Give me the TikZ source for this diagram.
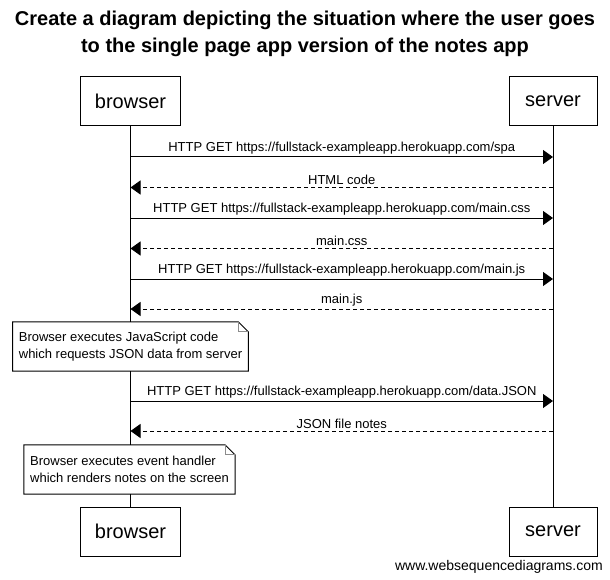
\documentclass[tikz,border=0pt]{standalone}
\usepackage{fontspec}
\setmainfont{Liberation Sans}
\usetikzlibrary{arrows.meta,positioning,calc}
\tikzset{
 actor/.style={draw, line width=1pt, fill=white, minimum height=49pt, inner sep=0pt, font=\fontsize{20}{24}\selectfont},
 lifeline/.style={line width=1pt},
 call/.style={line width=1pt, -{Triangle[length=10pt,width=14pt]}},
 reply/.style={call, dash pattern=on 4pt off 3pt},
 msglabel/.style={midway, above, inner sep=2pt, font=\fontsize{13}{15}\selectfont},
 notebox/.style={align=left, inner xsep=6pt, inner ysep=0pt, minimum height=49pt, fill=white, font=\fontsize{13}{17}\selectfont},
 notefold/.style={line width=0.8pt, draw=black!45}
}

\begin{document}
\begin{tikzpicture}[x=1pt,y=-1pt]
\useasboundingbox (0,0) rectangle (610,580);
% title
\node[align=center, font=\fontsize{20}{27}\selectfont\bfseries] (title) at (305,33.5)
 {Create a diagram depicting the situation where the user goes\\to the single page app version of the notes app};
% participants
\node[actor, minimum width=100pt] (browser) at (130.5,101.5) {browser};
\node[actor, minimum width=88pt] (server) at (553,101.5) {server};
\node[actor, minimum width=100pt] (browserEnd) at (130.5,531.5) {browser};
\node[actor, minimum width=88pt] (serverEnd) at (553,531.5) {server};
\draw[lifeline] (browser.south) -- (browserEnd.north);
\draw[lifeline] (server.south) -- (serverEnd.north);
% messages
\coordinate (m1) at (0,157);
\coordinate (m2) at (0,187.5);
\coordinate (m3) at (0,218);
\coordinate (m4) at (0,248.5);
\coordinate (m5) at (0,279);
\coordinate (m6) at (0,309);
\coordinate (m7) at (0,401);
\coordinate (m8) at (0,431);
\draw[call] (browser |- m1) -- (server |- m1) node[msglabel] {HTTP GET https://fullstack-exampleapp.herokuapp.com/spa};
\draw[reply] (server |- m2) -- (browser |- m2) node[msglabel] {HTML code};
\draw[call] (browser |- m3) -- (server |- m3) node[msglabel] {HTTP GET https://fullstack-exampleapp.herokuapp.com/main.css};
\draw[reply] (server |- m4) -- (browser |- m4) node[msglabel] {main.css};
\draw[call] (browser |- m5) -- (server |- m5) node[msglabel] {HTTP GET https://fullstack-exampleapp.herokuapp.com/main.js};
\draw[reply] (server |- m6) -- (browser |- m6) node[msglabel] {main.js};
\draw[call] (browser |- m7) -- (server |- m7) node[msglabel] {HTTP GET https://fullstack-exampleapp.herokuapp.com/data.JSON};
\draw[reply] (server |- m8) -- (browser |- m8) node[msglabel] {JSON file notes};
% notes
\node[notebox] (jsNote) at (130.5,346.5) {Browser executes JavaScript code\\which requests JSON data from server};
\node[notebox] (renderNote) at (129.5,469.5) {Browser executes event handler\\which renders notes on the screen};
\foreach \n in {jsNote,renderNote} {
 \draw[line width=1pt] (\n.south west) -- (\n.north west) -- ([xshift=-10pt]\n.north east)
  -- ([yshift=-10pt]\n.north east) -- (\n.south east) -- cycle;
 \draw[notefold] ([xshift=-10pt]\n.north east) |- ([yshift=-10pt]\n.north east);
}
% footer
\node[anchor=east, inner sep=0pt, font=\fontsize{14}{16}\selectfont] (credit) at (603,567) {www.websequencediagrams.com};
\end{tikzpicture}
\end{document}
